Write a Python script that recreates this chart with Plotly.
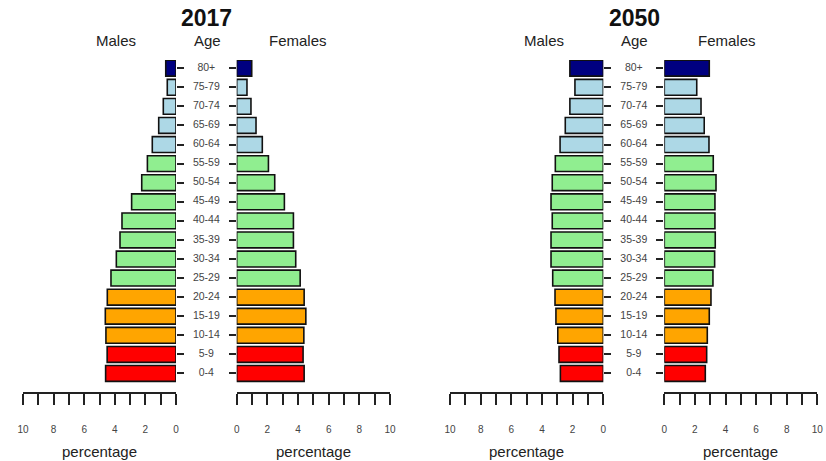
import plotly.graph_objects as go

ages = ["0-4", "5-9", "10-14", "15-19", "20-24", "25-29", "30-34", "35-39",
        "40-44", "45-49", "50-54", "55-59", "60-64", "65-69", "70-74", "75-79", "80+"]

males_2017 = [4.6, 4.5, 4.58, 4.62, 4.49, 4.25, 3.9, 3.66, 3.53, 2.9, 2.24, 1.87, 1.55, 1.13, 0.83, 0.57, 0.67]
females_2017 = [4.4, 4.33, 4.38, 4.51, 4.4, 4.14, 3.85, 3.7, 3.7, 3.11, 2.48, 2.07, 1.67, 1.26, 0.93, 0.67, 0.98]
males_2050 = [2.8, 2.89, 2.97, 3.09, 3.15, 3.3, 3.41, 3.41, 3.33, 3.41, 3.33, 3.13, 2.82, 2.48, 2.18, 1.85, 2.18]
females_2050 = [2.68, 2.77, 2.81, 2.94, 3.05, 3.18, 3.29, 3.33, 3.31, 3.31, 3.38, 3.2, 2.92, 2.61, 2.4, 2.12, 2.94]

group_colors = ["#FF0000"] * 2 + ["#FFA500"] * 3 + ["#90EE90"] * 7 + ["#ADD8E6"] * 4 + ["#000080"]

tick_vals = list(range(0, 11))
tick_text = [str(v) if v % 2 == 0 else "" for v in tick_vals]

W, H = 826, 461
def px(x):
    return x / W
def py(y):
    return 1 - y / H

fig = go.Figure()

panels = [
    ("x", males_2017, True, (23, 176)),
    ("x2", females_2017, False, (236.7, 390)),
    ("x3", males_2050, True, (450, 603.3)),
    ("x4", females_2050, False, (664.3, 817.3)),
]

ydom = [py(392), py(60)]
yrange = [-0.97, 16.43]

layout = dict(
    width=W, height=H,
    margin=dict(l=0, r=0, t=0, b=0, pad=0, autoexpand=False),
    paper_bgcolor="white", plot_bgcolor="white",
    showlegend=False,
    bargap=0.17,
    font=dict(family="Liberation Sans, Arial, sans-serif", color="#222"),
)

for i, (xid, vals, rev, (x0, x1)) in enumerate(panels):
    n = i + 1
    yid = "y" if n == 1 else f"y{n}"
    fig.add_trace(go.Bar(
        x=vals, y=ages, orientation="h",
        marker=dict(color=group_colors, line=dict(color="#111", width=1.6)),
        xaxis=xid, yaxis=yid, hoverinfo="x+y",
    ))
    xkey = "xaxis" if n == 1 else f"xaxis{n}"
    ykey = "yaxis" if n == 1 else f"yaxis{n}"
    layout[xkey] = dict(
        domain=[px(x0), px(x1)],
        range=[10, 0] if rev else [0, 10],
        anchor=yid,
        automargin=False,
        tickmode="array", tickvals=tick_vals, ticktext=tick_text,
        ticks="outside", ticklen=11, tickwidth=1.6, tickcolor="#222",
        showline=True, linecolor="#222", linewidth=1.6,
        showgrid=False, zeroline=False,
        tickfont=dict(size=10, color="#444"),
        ticklabelstandoff=16,
        fixedrange=True,
    )
    layout[ykey] = dict(
        domain=ydom,
        anchor=xid,
        automargin=False,
        type="category",
        categoryorder="array", categoryarray=ages,
        range=yrange,
        side="right" if rev else "left",
        ticks="outside", ticklen=7, tickwidth=1.6, tickcolor="#222",
        showticklabels=False,
        showline=False, showgrid=False, zeroline=False,
        fixedrange=True,
    )

mid_cols = [(176, 236.7), (603.3, 664.3)]
for j, (a, b) in enumerate(mid_cols):
    n = 5 + j
    fig.add_trace(go.Scatter(
        x=[0.5] * len(ages), y=ages, mode="text", text=ages,
        textposition="middle center",
        textfont=dict(size=10.5, color="#444"),
        xaxis=f"x{n}", yaxis=f"y{n}", hoverinfo="skip",
    ))
    layout[f"xaxis{n}"] = dict(domain=[px(a), px(b)], range=[0, 1], anchor=f"y{n}",
                               visible=False, fixedrange=True, automargin=False)
    layout[f"yaxis{n}"] = dict(domain=ydom, anchor=f"x{n}", type="category",
                               categoryorder="array", categoryarray=ages,
                               range=yrange, visible=False, fixedrange=True,
                               automargin=False)

fig.update_layout(**layout)

annotations = []
def ann(text, x, y, size, bold=False, color="#222"):
    annotations.append(dict(
        text=f"<b>{text}</b>" if bold else text,
        x=px(x), y=py(y), xref="paper", yref="paper",
        xanchor="center", yanchor="middle", showarrow=False,
        font=dict(size=size, color=color),
    ))

ann("2017", 206.5, 18.5, 23, bold=True, color="#111")
ann("2050", 634, 18.5, 23, bold=True, color="#111")
for cx_m, cx_a, cx_f in [(116, 207, 298), (544, 634, 727)]:
    ann("Males", cx_m, 40, 15)
    ann("Age", cx_a, 40, 15)
    ann("Females", cx_f, 40, 15)
for cx in [99.5, 313.3, 526.6, 740.8]:
    ann("percentage", cx, 451, 15)

fig.update_layout(annotations=annotations)
fig.write_html("out.html",
               config={"displayModeBar": False},
               post_script="document.body.style.margin='0';document.body.style.overflow='hidden';")
